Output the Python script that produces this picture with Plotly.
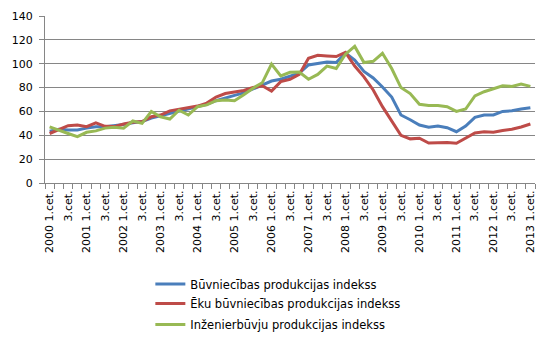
import plotly.graph_objects as go

n_q = 53
quarters = list(range(n_q))

tick_idx = list(range(0, n_q, 2))
tick_text = []
for i in tick_idx:
    y = 2000 + i // 4
    q = i % 4 + 1
    tick_text.append(f"{y} {q}.cet." if q == 1 else f"{q}.cet.")

buvn = [43.5, 45, 44.5, 44.5, 46, 47.2, 47.2, 47.8, 49, 50.5, 51.5, 54.5, 56.5, 58,
        60, 62, 64, 66, 69, 71.5, 73.5, 75.5, 79, 82.5, 85.5, 87, 89.5, 92, 99, 100,
        101.5, 101, 109, 103, 93.5, 88, 80.5, 72, 57, 53, 48.6, 46.7, 47.8, 46.4, 43,
        47.8, 55, 57, 57, 60, 60.5, 62, 63]
eku = [41.5, 45, 48, 48.7, 47.2, 50.5, 47.5, 47.3, 49.5, 51, 51.5, 55.5, 57, 60.5,
       62, 63.5, 64.5, 67, 72, 75, 76, 77.5, 80, 81.5, 77, 85, 87, 91, 104.5, 107,
       106.5, 106, 109.5, 98, 89, 78, 64, 52, 40, 37, 37.5, 33.5, 34, 34, 33.3, 37.5,
       42, 43, 42.5, 44, 45, 47, 49.5]
inz = [47, 44.5, 41.5, 38.8, 42.5, 43.7, 46, 46.7, 46, 52, 50, 60, 55.5, 53.6, 61,
       57, 64, 65.5, 69, 69.5, 69, 74, 79.5, 84, 99.7, 89.7, 92.8, 93, 87, 91, 98, 96,
       108, 114.5, 101, 102, 108.7, 96, 80, 75, 66, 65, 65, 64, 60, 62, 73, 76.5, 79,
       81.5, 81, 83, 81]

names = ["Būvniecības produkcijas indekss",
         "Ēku būvniecības produkcijas indekss",
         "Inženierbūvju produkcijas indekss"]
colors = ["#4A7EBB", "#BE4B48", "#98B954"]
legend_ids = ["legend", "legend2", "legend3"]
legend_y = [-0.605, -0.722, -0.848]

fig = go.Figure()
for vals, nm, c, lg in zip([buvn, eku, inz], names, colors, legend_ids):
    fig.add_trace(go.Scatter(x=quarters, y=vals, mode="lines", name=nm,
                             line=dict(color=c, width=3), legend=lg))

font = dict(family="DejaVu Sans", size=11, color="#000000")
legfont = dict(family="DejaVu Sans", size=11.5, color="#000000")

def leg(yv):
    return dict(x=0.215, y=yv, xanchor="left", yanchor="middle", font=legfont,
                bgcolor="rgba(0,0,0,0)", itemwidth=30)

fig.update_layout(
    width=544, height=348,
    margin=dict(l=45, r=7, t=16, b=165),
    paper_bgcolor="white", plot_bgcolor="white",
    font=font,
    showlegend=True,
    legend=leg(legend_y[0]),
    legend2=leg(legend_y[1]),
    legend3=leg(legend_y[2]),
    xaxis=dict(range=[-0.5, n_q - 0.5], tickmode="array", tickvals=tick_idx,
               ticktext=tick_text, tickangle=-90, ticks="", showgrid=False,
               showline=True, linecolor="#868686", linewidth=1, zeroline=False,
               tickfont=font, ticklabelstandoff=2,
               minor=dict(tickmode="linear", tick0=-0.5, dtick=1, ticks="outside",
                          ticklen=5, tickcolor="#868686", tickwidth=1, showgrid=False)),
    yaxis=dict(range=[0, 140], tickmode="linear", tick0=0, dtick=20,
               ticks="outside", ticklen=5, tickcolor="#868686",
               showgrid=True, gridcolor="#868686", gridwidth=1,
               showline=True, linecolor="#868686", linewidth=1, zeroline=False,
               ticklabelstandoff=4,
               tickfont=dict(family="DejaVu Sans", size=11, color="#000000")),
)

fig.write_html("out.html")
